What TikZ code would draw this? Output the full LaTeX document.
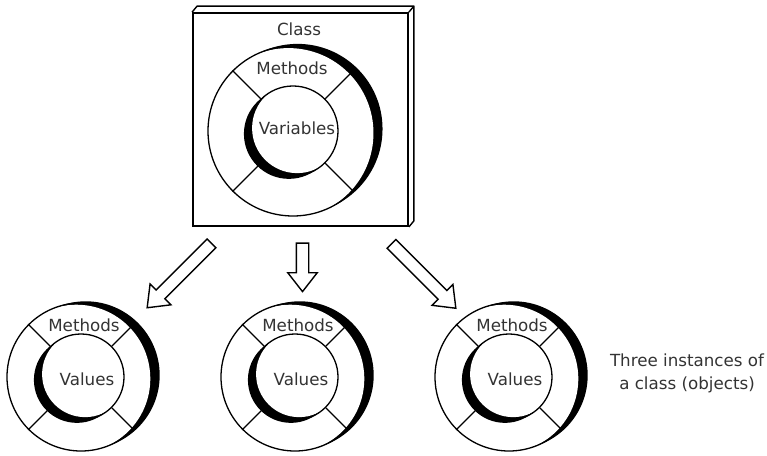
\documentclass[tikz,border=0pt]{standalone}
\usepackage{fontspec}
\setmainfont{DejaVu Sans}
\usetikzlibrary{shapes.arrows,calc}

\begin{document}
\begin{tikzpicture}[x=1pt, y=1pt,
    ringline/.style={circle, draw, line width=1.3pt, inner sep=0pt, minimum size=#1},
    shadowfill/.style={fill=black},
    txt/.style={text=black!80, font=\fontsize{16.7}{23}\selectfont, inner sep=0pt},
    divider/.style={line width=1.3pt},
    blockarrow/.style={draw, line width=1.4pt, fill=white, single arrow,
        single arrow head extend=8.5pt, single arrow tip angle=76,
        inner xsep=0pt, inner ysep=5.5pt, minimum height=#1}]
  \useasboundingbox (0,0) rectangle (767,455);

  \node (cls) [draw, line width=1.8pt, minimum width=215pt, minimum height=213pt] at (300.5,335.5) {};
  \draw[line width=1.4pt, line join=round] (cls.north west) -- ++(5,6)
      -- ($(cls.north east)+(5,6)$) -- ($(cls.south east)+(5,6)$) -- (cls.south east)
      (cls.north east) -- ++(5,6);
  \node[txt] (clsname) at (299,426) {Class};

  \coordinate (c0) at (293,324);
  \fill[shadowfill] ($(c0)+(25:5)$) circle[radius=85];
  \fill[white] ($(c0)+(205:5)$) circle[radius=85];
  \node[ringline=170pt] (out0) at (c0) {};
  \fill[shadowfill] ($(c0)+(215:5)$) circle[radius=45];
  \fill[white] ($(c0)+(35:5)$) circle[radius=45];
  \node[ringline=90pt] (in0) at (c0) {};
  \foreach \a in {45,135,225,315}
    \draw[divider] (in0.\a) -- (out0.\a);
  \node[txt] (meth0) at (292,387) {Methods};
  \node[txt] (var0) at (297,327) {Variables};

  \foreach \i/\x in {1/81,2/295,3/509} {
    \coordinate (c\i) at (\x,78);
    \fill[shadowfill] ($(c\i)+(20:5)$) circle[radius=74];
    \fill[white] ($(c\i)+(200:5)$) circle[radius=74];
    \node[ringline=148pt] (out\i) at (c\i) {};
    \fill[shadowfill] ($(c\i)+(215:5)$) circle[radius=43];
    \fill[white] ($(c\i)+(35:5)$) circle[radius=43];
    \node[ringline=86pt] (in\i) at (c\i) {};
    \foreach \a in {45,135,225,315}
      \draw[divider] (in\i.\a) -- (out\i.\a);
    \node[txt] (meth\i) at ($(c\i)+(3,52)$) {Methods};
    \node[txt] (val\i) at ($(c\i)+(6,-2)$) {Values};
  }

  \node[blockarrow=91pt, rotate=225, anchor=tail] (arr1) at ($(cls.south)+(-88.5,-16)$) {};
  \node[blockarrow=48.5pt, rotate=270, anchor=tail] (arr2) at ($(cls.south)+(2,-15.5)$) {};
  \node[blockarrow=91pt, rotate=315, anchor=tail] (arr3) at ($(cls.south)+(90.5,-16.5)$) {};

  \node[txt, align=center] (note) at (687,82) {Three instances of\\a class (objects)};
\end{tikzpicture}
\end{document}
